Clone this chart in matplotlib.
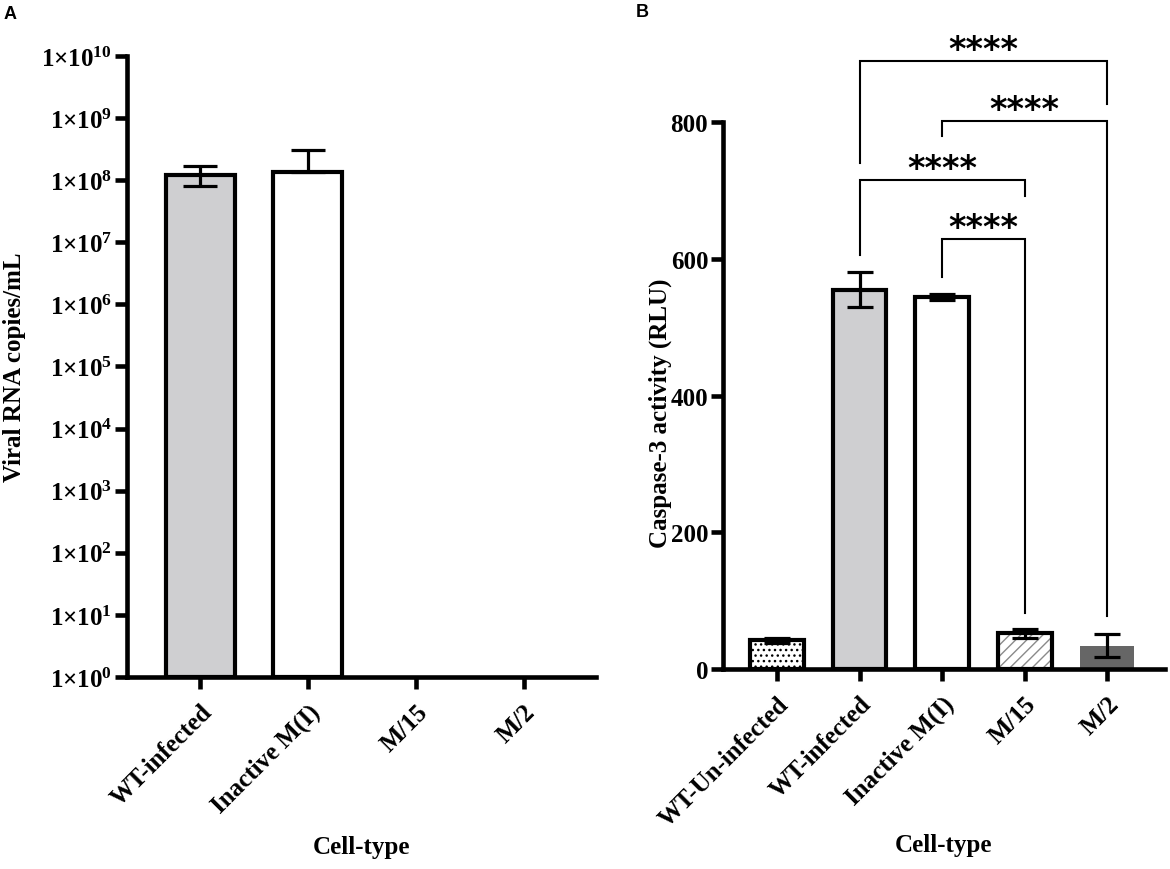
import numpy as np
import matplotlib
matplotlib.use('Agg')
import matplotlib.pyplot as plt
from matplotlib.ticker import FixedLocator, FuncFormatter, NullLocator

plt.rcParams['font.family'] = 'Liberation Serif'
plt.rcParams['font.weight'] = 'bold'
plt.rcParams['axes.labelweight'] = 'bold'
plt.rcParams['mathtext.fontset'] = 'custom'
plt.rcParams['mathtext.rm'] = 'Liberation Serif:bold'
plt.rcParams['mathtext.bf'] = 'Liberation Serif:bold'
plt.rcParams['hatch.linewidth'] = 1.0

# Panel A: viral RNA (copies/mL), log scale
cells_a = ['WT-infected', 'Inactive M(I)', 'M/15', 'M/2']
rna_mean = [1.2e8, 1.35e8, 0, 0]
rna_err_lo = [4.0e7, 0, 0, 0]
rna_err_hi = [4.8e7, 1.75e8, 0, 0]

# Panel B: caspase-3 activity (RLU)
cells_b = ['WT-Un-infected', 'WT-infected', 'Inactive M(I)', 'M/15', 'M/2']
casp_mean = [42, 555, 544, 52, 34]
casp_sd = [4, 25, 5, 6, 17]

# significance comparisons: (from, to, bar level, left leg end, right leg end)
comparisons = [
    (1, 4, 889, 740, 827),
    (2, 4, 802, 780, 78),
    (1, 3, 715, 605, 692),
    (2, 3, 629, 574, 82),
]
sig_label = '****'

AX_LW = 3.3
fig = plt.figure(figsize=(11.7, 8.7), dpi=100)


def style_axis(ax, ysize):
    for s in ['top', 'right']:
        ax.spines[s].set_visible(False)
    for s in ['left', 'bottom']:
        ax.spines[s].set_linewidth(AX_LW)
    ax.tick_params(width=AX_LW, length=8.5, pad=2)
    ax.tick_params(axis='y', labelsize=ysize)
    ax.tick_params(axis='x', labelsize=18, pad=8)
    ax.yaxis.set_minor_locator(NullLocator())


# ---- Panel A
axa = fig.add_axes([0.1083, 0.2207, 0.4011, 0.7138])
xa = np.arange(len(cells_a))
for i, v in enumerate(rna_mean):
    if v > 0:
        fc = '#cfcfd1' if i == 0 else 'white'
        axa.bar(xa[i], v - 1, bottom=1, width=0.64, color=fc, edgecolor='k', linewidth=3, zorder=2)
        axa.errorbar(xa[i], v, yerr=[[rna_err_lo[i]], [rna_err_hi[i]]], fmt='none', ecolor='k',
                     elinewidth=2.3, capsize=12.5, capthick=2.3, zorder=3)
axa.set_yscale('log')
axa.set_ylim(1, 1e10)
axa.set_xlim(-0.68, 3.67)
axa.yaxis.set_major_locator(FixedLocator([10.0 ** k for k in range(11)]))
axa.yaxis.set_major_formatter(FuncFormatter(lambda v, p: r'$\mathbf{1{\times}10^{%d}}$' % round(np.log10(v))))
axa.set_xticks(xa)
axa.set_xticklabels(cells_a, rotation=45, ha='right', rotation_mode='anchor')
style_axis(axa, 18)
axa.set_ylabel('Viral RNA copies/mL', fontsize=18)
axa.yaxis.set_label_coords(-0.214, 0.5)
axa.set_xlabel('Cell-type', fontsize=18)
axa.xaxis.set_label_coords(0.5, -0.255)

# ---- Panel B
axb = fig.add_axes([0.6177, 0.2299, 0.3780, 0.6287])
xb = np.arange(len(cells_b))
w = 0.65
fills = ['white', '#cfcfd1', 'white', 'white', '#666666']
for i, v in enumerate(casp_mean):
    if i == 0:
        axb.bar(xb[i], v, width=w, color='white', edgecolor='k', hatch='...', linewidth=0, zorder=2)
        axb.bar(xb[i], v, width=w, fill=False, edgecolor='k', linewidth=3, zorder=2)
    elif i == 3:
        axb.bar(xb[i], v, width=w, color='white', edgecolor='#8a8a8a', hatch='///', linewidth=0, zorder=2)
        axb.bar(xb[i], v, width=w, fill=False, edgecolor='k', linewidth=3, zorder=2)
    elif i == 4:
        axb.bar(xb[i], v, width=w, color=fills[i], edgecolor=fills[i], linewidth=0, zorder=2)
    else:
        axb.bar(xb[i], v, width=w, color=fills[i], edgecolor='k', linewidth=3, zorder=2)
axb.errorbar(xb, casp_mean, yerr=casp_sd, fmt='none', ecolor='k', elinewidth=2.3,
             capsize=9.5, capthick=2.3, zorder=3)
axb.set_ylim(0, 800)
axb.set_xlim(-0.66, 4.7)
axb.set_yticks([0, 200, 400, 600, 800])
axb.set_xticks(xb)
axb.set_xticklabels(cells_b, rotation=45, ha='right', rotation_mode='anchor')
style_axis(axb, 18)
axb.set_ylabel('Caspase-3 activity (RLU)', fontsize=18)
axb.yaxis.set_label_coords(-0.115, 0.47)
axb.set_xlabel('Cell-type', fontsize=18)
axb.xaxis.set_label_coords(0.5, -0.30)

for i, j, h, yl, yr in comparisons:
    axb.plot([xb[i], xb[i], xb[j], xb[j]], [yl, h, h, yr], color='k', lw=1.5,
             clip_on=False, zorder=4, solid_joinstyle='miter')
    axb.text((xb[i] + xb[j]) / 2, h + 3, sig_label, ha='center', va='baseline',
             fontsize=24, fontfamily='DejaVu Sans', fontweight='bold', clip_on=False)

fig.text(0.0034, 0.993, 'A', fontsize=13, fontfamily='Liberation Sans', fontweight='bold', va='top')
fig.text(0.5436, 0.995, 'B', fontsize=13, fontfamily='Liberation Sans', fontweight='bold', va='top')

fig.savefig('out.png', dpi=100)
